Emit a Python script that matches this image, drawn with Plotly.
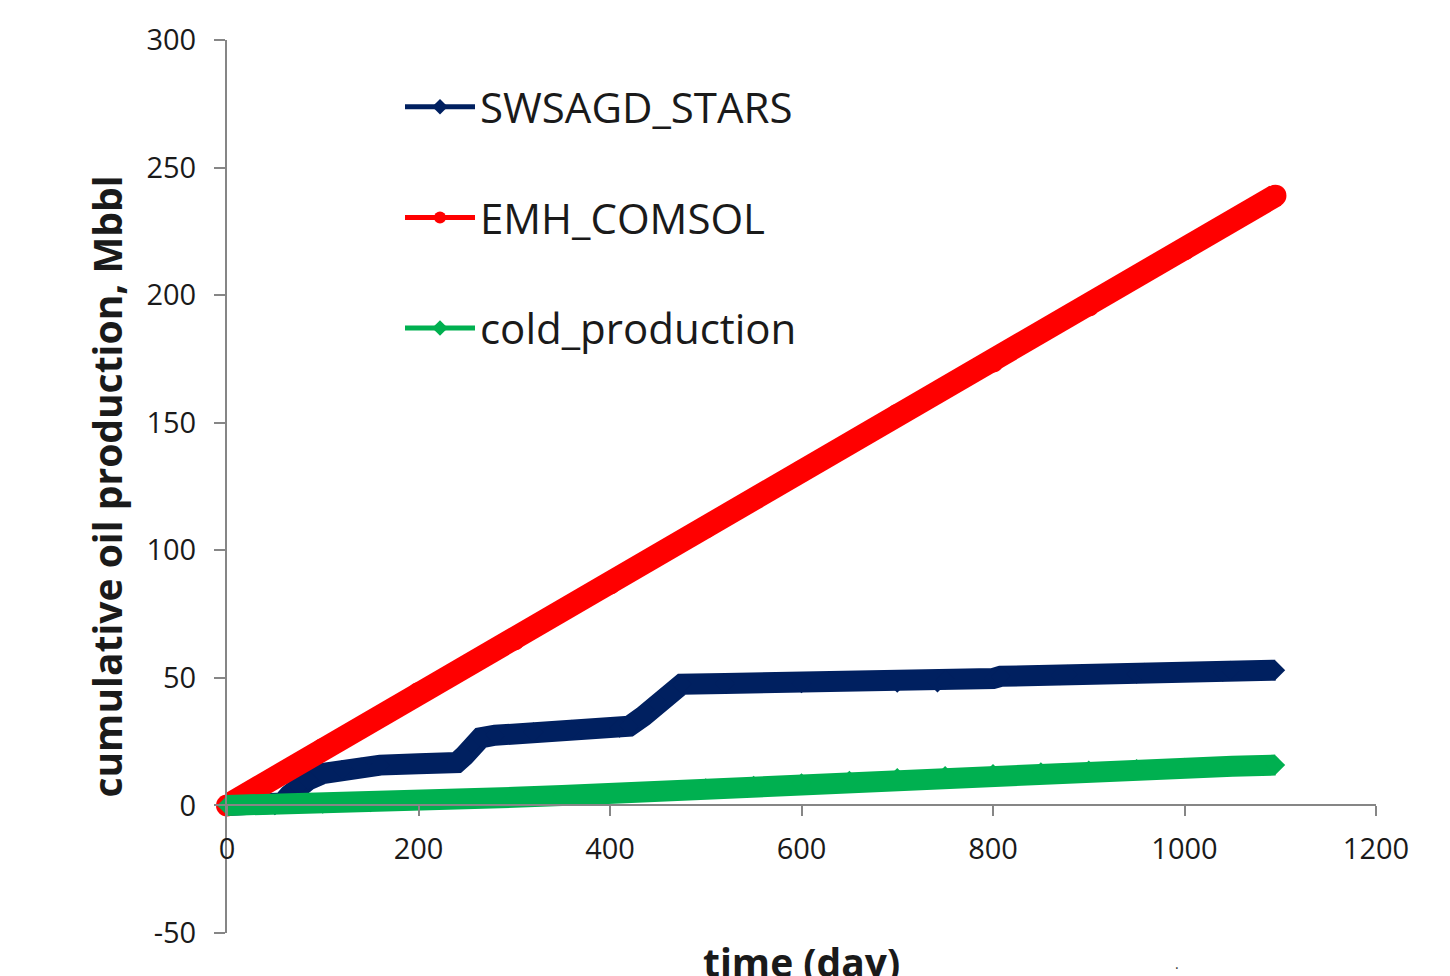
import plotly.graph_objects as go

# ---- data ----
swsagd_day = [0, 50, 58, 65, 75, 85, 100, 120, 140, 160, 200, 240, 248, 256, 265, 280,
              320, 360, 410, 420, 435, 450, 465, 475, 520, 600, 700, 742, 750, 800, 808,
              870, 878, 950, 958, 1040, 1048, 1095]
swsagd_val = [0, 0, 1, 4, 7.5, 10, 12.5, 14, 15, 15.8, 16.3, 16.8, 19.5, 24, 26.5, 27.5,
              28.8, 29.8, 30.3, 31, 35, 40, 45, 47.5, 47.8, 47.8, 48, 48.1, 49.3, 49.7, 50.6,
              50.9, 51.3, 51.5, 52.1, 52.3, 52.9, 53]

emh_day = [0, 100, 200, 300, 400, 500, 600, 700, 800, 900, 1000, 1095]
emh_val = [0, 22, 44, 65, 87, 109, 131, 153, 174, 196, 218, 239]

cold_day = [0, 50, 100, 150, 200, 250, 300, 350, 400, 450, 500, 550, 600, 650, 700,
            750, 800, 850, 900, 950, 1000, 1050, 1095]
cold_val = [0, 0.2, 0.6, 1.1, 1.7, 2.4, 3.2, 3.9, 4.8, 5.8, 6.8, 7.8, 8.8, 9.8, 10.8,
            11.6, 12.4, 13.1, 13.8, 14.4, 14.9, 15.4, 15.8]

series_names = ["SWSAGD_STARS", "EMH_COMSOL", "cold_production"]
series_colors = ["#002060", "#FF0000", "#00B050"]

x_ticks = [0, 200, 400, 600, 800, 1000, 1200]
y_ticks = [-50, 0, 50, 100, 150, 200, 250, 300]

W, H = 1450, 976
L, R, T, B = 227, 74, 40, 43
FONT = "Open Sans"

fig = go.Figure()

fig.add_trace(go.Scatter(
    x=swsagd_day, y=swsagd_val, name=series_names[0], mode="lines+markers",
    line=dict(color=series_colors[0], width=21),
    marker=dict(symbol="diamond", size=15, color=series_colors[0]),
    legendgroup="a", cliponaxis=False))
fig.add_trace(go.Scatter(
    x=emh_day, y=emh_val, name=series_names[1], mode="lines+markers",
    line=dict(color=series_colors[1], width=23),
    marker=dict(symbol="circle", size=22, color=series_colors[1]),
    legendgroup="b", cliponaxis=False))
fig.add_trace(go.Scatter(
    x=cold_day, y=cold_val, name=series_names[2], mode="lines+markers",
    line=dict(color=series_colors[2], width=21),
    marker=dict(symbol="diamond", size=15, color=series_colors[2]),
    legendgroup="c", cliponaxis=False))

axis_col = "#868686"
tick_font = dict(family=FONT, size=29, color="#1a1a1a")

fig.update_layout(
    template="none",
    width=W, height=H,
    margin=dict(l=L, r=R, t=T, b=B, autoexpand=False),
    paper_bgcolor="white", plot_bgcolor="white",
    font=dict(family=FONT, color="#1a1a1a"),
    showlegend=True,
    legend=dict(
        x=(400 - L) / (W - L - R), xanchor="left",
        y=1 - (73 - T) / (H - T - B), yanchor="top",
        font=dict(family=FONT, size=42, color="#1a1a1a"),
        itemsizing="constant", itemwidth=70,
        tracegroupgap=53, bgcolor="rgba(0,0,0,0)", borderwidth=0,
        traceorder="grouped",
    ),
    xaxis=dict(
        range=[0, 1200], tickvals=x_ticks, ticktext=[str(v) for v in x_ticks],
        showgrid=False, zeroline=False, showline=True, linecolor=axis_col, linewidth=2,
        ticks="outside", ticklen=10, tickwidth=2, tickcolor=axis_col,
        tickfont=tick_font, ticklabelstandoff=8,
        anchor="free", position=50 / 350,
    ),
    yaxis=dict(
        range=[-50, 300], tickvals=y_ticks, ticktext=[str(v) for v in y_ticks],
        showgrid=False, zeroline=False, showline=True, linecolor=axis_col, linewidth=2,
        ticks="outside", ticklen=11, tickwidth=2, tickcolor=axis_col,
        tickfont=tick_font, ticklabelstandoff=12,
        title=dict(text="<b>cumulative oil production, Mbbl</b>",
                   font=dict(family=FONT, size=39, color="#1a1a1a"), standoff=12),
    ),
    annotations=[
        dict(text="<b>time (day)</b>", xref="paper", yref="paper",
             x=0.5, y=-0.032, xanchor="center", yanchor="middle", showarrow=False,
             font=dict(family=FONT, size=39, color="#1a1a1a")),
        dict(text="·", xref="paper", yref="paper",
             x=(1177 - L) / (W - L - R), y=(H - B - 967) / (H - T - B),
             xanchor="center", yanchor="middle", showarrow=False,
             font=dict(family=FONT, size=14, color="#333333")),
    ],
)

fig.write_html("out.html")
